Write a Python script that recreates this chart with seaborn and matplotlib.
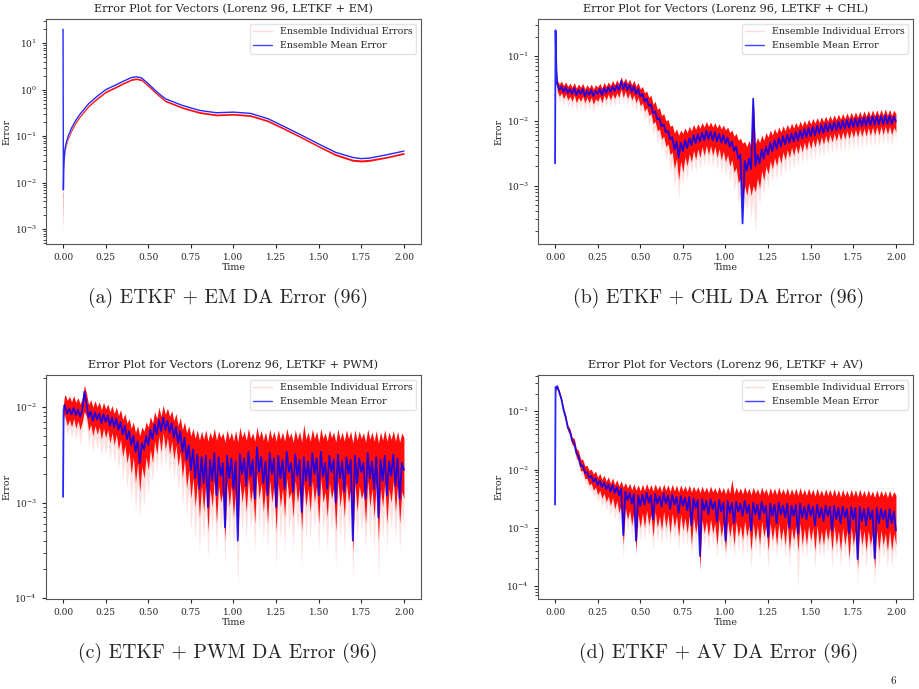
import numpy as np
import matplotlib
matplotlib.use("Agg")
import matplotlib.pyplot as plt
from matplotlib.lines import Line2D
import seaborn as sns

# ---- panel (a): EM, smooth curve ----
t_a = [0.0, 0.002, 0.004, 0.008, 0.012, 0.02, 0.03, 0.05, 0.075, 0.1, 0.15, 0.2,
       0.25, 0.3, 0.35, 0.4, 0.43, 0.46, 0.5, 0.55, 0.6, 0.7, 0.8, 0.9, 1.0, 1.1,
       1.2, 1.3, 1.4, 1.5, 1.6, 1.7, 1.75, 1.8, 1.9, 2.0]
mean_a = [20.0, 0.007, 0.02, 0.04, 0.055, 0.075, 0.1, 0.15, 0.22, 0.3, 0.5, 0.72,
          1.0, 1.22, 1.5, 1.82, 1.9, 1.8, 1.35, 0.9, 0.64, 0.46, 0.36, 0.32, 0.33, 0.31,
          0.24, 0.16, 0.105, 0.068, 0.045, 0.035, 0.033, 0.034, 0.04, 0.048]
hi_a = [0.006, 0.0065, 0.019, 0.038, 0.052, 0.071, 0.095, 0.142, 0.21, 0.285, 0.47, 0.68,
        0.94, 1.15, 1.42, 1.72, 1.8, 1.7, 1.27, 0.85, 0.6, 0.43, 0.34, 0.3, 0.31, 0.29,
        0.225, 0.15, 0.098, 0.063, 0.042, 0.032, 0.031, 0.032, 0.037, 0.045]
lo_a = [0.0008, 0.0055, 0.017, 0.034, 0.047, 0.064, 0.086, 0.128, 0.19, 0.26, 0.43, 0.62,
        0.86, 1.05, 1.3, 1.58, 1.65, 1.56, 1.16, 0.78, 0.55, 0.395, 0.31, 0.275, 0.285, 0.265,
        0.205, 0.137, 0.09, 0.058, 0.038, 0.029, 0.028, 0.029, 0.034, 0.041]

# ---- noisy panels share one time grid (3 start-up samples + 160 steps) ----
t_noisy = np.concatenate([[0.0, 0.003, 0.008], np.linspace(0.0125, 2.0, 160)])

# panel (b): CHL
mean_b = [0.0022, 0.25, 0.06,
          0.037, 0.030, 0.034, 0.028, 0.033, 0.027, 0.031, 0.026, 0.032, 0.025,
          0.030, 0.026, 0.031, 0.024, 0.029, 0.025, 0.030, 0.024, 0.029, 0.026,
          0.031, 0.025, 0.032, 0.027, 0.033, 0.028, 0.034, 0.029, 0.035, 0.030,
          0.041, 0.031, 0.038, 0.030, 0.036, 0.028, 0.034, 0.026, 0.031, 0.024,
          0.026, 0.020, 0.022, 0.017, 0.018, 0.013, 0.014, 0.0105, 0.0110, 0.0082,
          0.0088, 0.0066, 0.0070, 0.0052, 0.0056, 0.0036, 0.0048, 0.0027, 0.0046, 0.0034,
          0.0050, 0.0038, 0.0054, 0.0042, 0.0060, 0.0045, 0.0062, 0.0048, 0.0066, 0.0050,
          0.0070, 0.0052, 0.0068, 0.0050, 0.0067, 0.0048, 0.0063, 0.0046, 0.0060, 0.0044,
          0.0055, 0.0040, 0.0048, 0.0034, 0.0040, 0.0026, 0.0030, 0.00026, 0.0024, 0.0017,
          0.0026, 0.0018, 0.022, 0.0020, 0.0030, 0.0022, 0.0036, 0.0026, 0.0040, 0.0030,
          0.0046, 0.0034, 0.0050, 0.0037, 0.0054, 0.0040, 0.0058, 0.0043, 0.0061, 0.0046,
          0.0064, 0.0048, 0.0067, 0.0050, 0.0071, 0.0053, 0.0074, 0.0056, 0.0078, 0.0058,
          0.0081, 0.0060, 0.0084, 0.0063, 0.0087, 0.0065, 0.0090, 0.0068, 0.0092, 0.0070,
          0.0095, 0.0072, 0.0097, 0.0074, 0.0100, 0.0076, 0.0103, 0.0078, 0.0106, 0.0080,
          0.0108, 0.0081, 0.0110, 0.0083, 0.0113, 0.0084, 0.0115, 0.0086, 0.0117, 0.0087,
          0.0118, 0.0088, 0.0119, 0.0089, 0.0121, 0.0090, 0.0120, 0.0089, 0.0116, 0.0098]
hi_b = [0.0025, 0.26, 0.07,
        0.043, 0.037, 0.041, 0.035, 0.040, 0.034, 0.038, 0.033, 0.039, 0.032,
        0.037, 0.033, 0.038, 0.031, 0.036, 0.032, 0.037, 0.031, 0.036, 0.033,
        0.038, 0.032, 0.039, 0.034, 0.040, 0.035, 0.042, 0.036, 0.043, 0.037,
        0.048, 0.039, 0.046, 0.038, 0.044, 0.036, 0.042, 0.034, 0.039, 0.031,
        0.034, 0.027, 0.029, 0.023, 0.025, 0.018, 0.020, 0.015, 0.016, 0.012,
        0.013, 0.0100, 0.0105, 0.0082, 0.0086, 0.0065, 0.0075, 0.0060, 0.0072, 0.0064,
        0.0078, 0.0066, 0.0082, 0.0070, 0.0088, 0.0074, 0.0090, 0.0077, 0.0094, 0.0080,
        0.0098, 0.0082, 0.0096, 0.0080, 0.0094, 0.0078, 0.0090, 0.0075, 0.0086, 0.0072,
        0.0080, 0.0066, 0.0072, 0.0058, 0.0064, 0.0050, 0.0054, 0.0045, 0.0048, 0.0040,
        0.0050, 0.0040, 0.024, 0.0044, 0.0055, 0.0046, 0.0060, 0.0050, 0.0066, 0.0056,
        0.0072, 0.0060, 0.0076, 0.0064, 0.0080, 0.0067, 0.0084, 0.0070, 0.0088, 0.0074,
        0.0092, 0.0077, 0.0095, 0.0080, 0.0099, 0.0083, 0.0102, 0.0086, 0.0106, 0.0089,
        0.0109, 0.0092, 0.0112, 0.0094, 0.0115, 0.0097, 0.0118, 0.0099, 0.0121, 0.0102,
        0.0124, 0.0104, 0.0127, 0.0106, 0.0130, 0.0108, 0.0133, 0.0110, 0.0136, 0.0112,
        0.0138, 0.0114, 0.0140, 0.0116, 0.0143, 0.0117, 0.0145, 0.0118, 0.0147, 0.0120,
        0.0148, 0.0121, 0.0150, 0.0122, 0.0152, 0.0122, 0.0150, 0.0121, 0.0146, 0.0128]
lo_b = [0.0012, 0.2, 0.045,
        0.029, 0.024, 0.027, 0.022, 0.026, 0.021, 0.024, 0.020, 0.025, 0.019,
        0.023, 0.020, 0.024, 0.019, 0.023, 0.019, 0.023, 0.018, 0.022, 0.020,
        0.024, 0.019, 0.025, 0.021, 0.026, 0.021, 0.026, 0.022, 0.027, 0.023,
        0.031, 0.023, 0.029, 0.022, 0.027, 0.021, 0.025, 0.019, 0.023, 0.017,
        0.019, 0.014, 0.016, 0.012, 0.013, 0.0090, 0.0098, 0.0070, 0.0075, 0.0052,
        0.0058, 0.0040, 0.0044, 0.0030, 0.0033, 0.0018, 0.0026, 0.0012, 0.0024, 0.0016,
        0.0028, 0.0020, 0.0031, 0.0023, 0.0035, 0.0025, 0.0037, 0.0027, 0.0040, 0.0029,
        0.0042, 0.0030, 0.0041, 0.0029, 0.0040, 0.0027, 0.0037, 0.0025, 0.0034, 0.0023,
        0.0030, 0.0020, 0.0025, 0.0016, 0.0019, 0.0011, 0.0013, 0.0006, 0.0010, 0.0007,
        0.0011, 0.0007, 0.0010, 0.0008, 0.0013, 0.0009, 0.0017, 0.0012, 0.0020, 0.0015,
        0.0024, 0.0018, 0.0027, 0.0020, 0.0030, 0.0022, 0.0033, 0.0025, 0.0036, 0.0027,
        0.0039, 0.0029, 0.0041, 0.0031, 0.0044, 0.0033, 0.0047, 0.0035, 0.0050, 0.0037,
        0.0052, 0.0039, 0.0055, 0.0041, 0.0057, 0.0043, 0.0060, 0.0045, 0.0062, 0.0047,
        0.0064, 0.0049, 0.0066, 0.0050, 0.0068, 0.0052, 0.0070, 0.0053, 0.0072, 0.0055,
        0.0074, 0.0056, 0.0076, 0.0057, 0.0077, 0.0058, 0.0079, 0.0059, 0.0080, 0.0060,
        0.0081, 0.0060, 0.0082, 0.0061, 0.0083, 0.0062, 0.0082, 0.0061, 0.0080, 0.0068]
tail_b = [0.001, 0.18, 0.04,
          0.025, 0.019, 0.024, 0.017, 0.023, 0.016, 0.021, 0.015, 0.022, 0.014,
          0.020, 0.015, 0.021, 0.014, 0.020, 0.015, 0.020, 0.013, 0.019, 0.016,
          0.021, 0.015, 0.022, 0.016, 0.023, 0.016, 0.023, 0.017, 0.024, 0.018,
          0.027, 0.018, 0.026, 0.017, 0.024, 0.016, 0.022, 0.014, 0.020, 0.013,
          0.016, 0.010, 0.013, 0.008, 0.011, 0.0060, 0.0080, 0.0045, 0.0060, 0.0035,
          0.0045, 0.0025, 0.0034, 0.0015, 0.0024, 0.0009, 0.0018, 0.0006, 0.0016, 0.0010,
          0.0022, 0.0012, 0.0025, 0.0015, 0.0029, 0.0016, 0.0030, 0.0018, 0.0033, 0.0020,
          0.0035, 0.0020, 0.0034, 0.0019, 0.0033, 0.0017, 0.0030, 0.0015, 0.0027, 0.0013,
          0.0023, 0.0011, 0.0018, 0.0008, 0.0013, 0.0005, 0.0008, 0.0003, 0.0006, 0.0004,
          0.0007, 0.0003, 0.0007, 0.00018, 0.0009, 0.0005, 0.0012, 0.0007, 0.0015, 0.0009,
          0.0019, 0.0011, 0.0021, 0.0012, 0.0024, 0.0013, 0.0027, 0.0015, 0.0030, 0.0017,
          0.0032, 0.0018, 0.0034, 0.0020, 0.0037, 0.0021, 0.0040, 0.0023, 0.0042, 0.0024,
          0.0044, 0.0025, 0.0047, 0.0027, 0.0049, 0.0028, 0.0051, 0.0030, 0.0053, 0.0031,
          0.0055, 0.0032, 0.0057, 0.0033, 0.0059, 0.0034, 0.0060, 0.0035, 0.0062, 0.0036,
          0.0064, 0.0037, 0.0066, 0.0038, 0.0067, 0.0039, 0.0068, 0.0040, 0.0069, 0.0040,
          0.0070, 0.0041, 0.0071, 0.0042, 0.0072, 0.0042, 0.0071, 0.0041, 0.0069, 0.0050]

# panel (c): PWM
mean_c = [0.00115, 0.0092, 0.0105,
          0.0100, 0.0086, 0.0096, 0.0084, 0.0098, 0.0083, 0.0094, 0.0080, 0.0092, 0.0145,
          0.0110, 0.0078, 0.0090, 0.0072, 0.0088, 0.0074, 0.0086, 0.0068, 0.0084, 0.0070,
          0.0082, 0.0064, 0.0078, 0.0062, 0.0076, 0.0058, 0.0070, 0.0052, 0.0064, 0.0046,
          0.0056, 0.0040, 0.0050, 0.0034, 0.0044, 0.0026, 0.0042, 0.0036, 0.0050, 0.0040,
          0.0058, 0.0046, 0.0066, 0.0052, 0.0074, 0.0056, 0.0078, 0.0058, 0.0072, 0.0054,
          0.0068, 0.0048, 0.0062, 0.0042, 0.0056, 0.0034, 0.0048, 0.0028, 0.0040, 0.0022,
          0.0036, 0.0018, 0.0032, 0.0014, 0.0030, 0.0016, 0.0031, 0.0009, 0.0028, 0.0017,
          0.0033, 0.0012, 0.0030, 0.0019, 0.0026, 0.00055, 0.0031, 0.0018, 0.0029, 0.0014,
          0.0027, 0.0004, 0.0032, 0.0020, 0.0029, 0.0015, 0.0034, 0.0019, 0.0028, 0.0011,
          0.0038, 0.0021, 0.0030, 0.0016, 0.0027, 0.0012, 0.0033, 0.0020, 0.0029, 0.0009,
          0.0031, 0.0018, 0.0028, 0.0014, 0.0034, 0.0021, 0.0026, 0.0013, 0.0032, 0.0019,
          0.0028, 0.0008, 0.0030, 0.0017, 0.0027, 0.0015, 0.0033, 0.0020, 0.0029, 0.0012,
          0.0034, 0.0019, 0.0026, 0.0014, 0.0031, 0.0021, 0.0028, 0.0010, 0.0032, 0.0018,
          0.0027, 0.0013, 0.0030, 0.0020, 0.0028, 0.0004, 0.0031, 0.0016, 0.0029, 0.0021,
          0.0026, 0.0011, 0.0033, 0.0018, 0.0027, 0.0014, 0.0030, 0.0007, 0.0028, 0.0017,
          0.0031, 0.0012, 0.0027, 0.0019, 0.0032, 0.0015, 0.0029, 0.0011, 0.0026, 0.0022]
hi_c = [0.0012, 0.011, 0.013,
        0.0135, 0.0118, 0.0130, 0.0114, 0.0132, 0.0112, 0.0126, 0.0108, 0.0124, 0.0170,
        0.0140, 0.0106, 0.0120, 0.0100, 0.0117, 0.0100, 0.0114, 0.0094, 0.0112, 0.0096,
        0.0108, 0.0090, 0.0104, 0.0086, 0.0100, 0.0082, 0.0094, 0.0074, 0.0086, 0.0068,
        0.0076, 0.0060, 0.0070, 0.0054, 0.0064, 0.0050, 0.0062, 0.0056, 0.0070, 0.0062,
        0.0080, 0.0068, 0.0090, 0.0076, 0.0100, 0.0080, 0.0105, 0.0084, 0.0098, 0.0080,
        0.0092, 0.0072, 0.0086, 0.0064, 0.0078, 0.0058, 0.0070, 0.0054, 0.0064, 0.0050,
        0.0060, 0.0047, 0.0058, 0.0045, 0.0056, 0.0046, 0.0058, 0.0044, 0.0055, 0.0047,
        0.0060, 0.0045, 0.0056, 0.0048, 0.0054, 0.0043, 0.0058, 0.0046, 0.0055, 0.0044,
        0.0057, 0.0043, 0.0062, 0.0048, 0.0056, 0.0045, 0.0060, 0.0047, 0.0054, 0.0044,
        0.0062, 0.0048, 0.0057, 0.0045, 0.0055, 0.0043, 0.0059, 0.0047, 0.0056, 0.0044,
        0.0058, 0.0046, 0.0055, 0.0044, 0.0060, 0.0048, 0.0054, 0.0043, 0.0058, 0.0046,
        0.0056, 0.0043, 0.0066, 0.0046, 0.0055, 0.0044, 0.0059, 0.0047, 0.0056, 0.0043,
        0.0060, 0.0047, 0.0054, 0.0044, 0.0058, 0.0048, 0.0055, 0.0043, 0.0059, 0.0046,
        0.0055, 0.0044, 0.0058, 0.0047, 0.0056, 0.0042, 0.0058, 0.0045, 0.0056, 0.0047,
        0.0054, 0.0043, 0.0059, 0.0046, 0.0055, 0.0044, 0.0057, 0.0042, 0.0055, 0.0045,
        0.0058, 0.0044, 0.0055, 0.0046, 0.0057, 0.0044, 0.0056, 0.0043, 0.0054, 0.0048]
lo_c = [0.0009, 0.0075, 0.0085,
        0.0078, 0.0064, 0.0074, 0.0062, 0.0076, 0.0060, 0.0072, 0.0058, 0.0070, 0.0090,
        0.0080, 0.0056, 0.0066, 0.0050, 0.0064, 0.0052, 0.0062, 0.0046, 0.0060, 0.0048,
        0.0058, 0.0042, 0.0054, 0.0040, 0.0052, 0.0036, 0.0046, 0.0030, 0.0040, 0.0026,
        0.0034, 0.0020, 0.0030, 0.0016, 0.0026, 0.0013, 0.0024, 0.0018, 0.0030, 0.0022,
        0.0036, 0.0026, 0.0044, 0.0032, 0.0050, 0.0034, 0.0054, 0.0036, 0.0048, 0.0032,
        0.0044, 0.0028, 0.0040, 0.0024, 0.0034, 0.0018, 0.0028, 0.0014, 0.0022, 0.0011,
        0.0018, 0.0009, 0.0016, 0.0007, 0.0015, 0.0008, 0.0016, 0.0005, 0.0014, 0.0009,
        0.0017, 0.0006, 0.0015, 0.0010, 0.0013, 0.0004, 0.0016, 0.0009, 0.0015, 0.0007,
        0.0014, 0.0004, 0.0017, 0.0010, 0.0015, 0.0008, 0.0018, 0.0010, 0.0014, 0.0006,
        0.0020, 0.0011, 0.0016, 0.0008, 0.0014, 0.0006, 0.0017, 0.0010, 0.0015, 0.0005,
        0.0016, 0.0009, 0.0014, 0.0007, 0.0018, 0.0011, 0.0013, 0.0007, 0.0017, 0.0010,
        0.0014, 0.0005, 0.0016, 0.0009, 0.0014, 0.0008, 0.0017, 0.0010, 0.0015, 0.0006,
        0.0018, 0.0010, 0.0013, 0.0007, 0.0016, 0.0011, 0.0014, 0.0005, 0.0017, 0.0009,
        0.0014, 0.0007, 0.0016, 0.0010, 0.0014, 0.0003, 0.0016, 0.0008, 0.0015, 0.0011,
        0.0013, 0.0006, 0.0017, 0.0009, 0.0014, 0.0007, 0.0016, 0.0004, 0.0014, 0.0009,
        0.0016, 0.0006, 0.0014, 0.0010, 0.0017, 0.0008, 0.0015, 0.0006, 0.0013, 0.0011]
tail_c = [0.0008, 0.0060, 0.0070,
          0.0066, 0.0050, 0.0062, 0.0047, 0.0064, 0.0045, 0.0060, 0.0040, 0.0058, 0.0075,
          0.0066, 0.0040, 0.0052, 0.0034, 0.0050, 0.0036, 0.0048, 0.0030, 0.0046, 0.0032,
          0.0046, 0.0028, 0.0042, 0.0026, 0.0040, 0.0022, 0.0034, 0.0017, 0.0028, 0.0014,
          0.0024, 0.0010, 0.0020, 0.0008, 0.0016, 0.0007, 0.0015, 0.0009, 0.0020, 0.0012,
          0.0026, 0.0016, 0.0033, 0.0020, 0.0040, 0.0022, 0.0043, 0.0024, 0.0036, 0.0020,
          0.0033, 0.0017, 0.0030, 0.0013, 0.0024, 0.0009, 0.0019, 0.0007, 0.0014, 0.0005,
          0.0011, 0.0004, 0.0010, 0.0003, 0.0009, 0.0004, 0.0010, 0.00026, 0.0009, 0.0005,
          0.0011, 0.0003, 0.0010, 0.0005, 0.0008, 0.00022, 0.0011, 0.0004, 0.0010, 0.0003,
          0.0009, 0.000125, 0.0011, 0.0005, 0.0010, 0.0004, 0.0012, 0.0005, 0.0009, 0.0003,
          0.0013, 0.0005, 0.0011, 0.0004, 0.0009, 0.0003, 0.0011, 0.0005, 0.0010, 0.0002,
          0.0011, 0.0004, 0.0009, 0.0003, 0.0012, 0.0005, 0.0008, 0.0003, 0.0011, 0.0005,
          0.0009, 0.0002, 0.0011, 0.0004, 0.0009, 0.0004, 0.0011, 0.0005, 0.0010, 0.0003,
          0.0012, 0.0005, 0.0008, 0.0003, 0.0011, 0.0005, 0.0009, 0.0002, 0.0011, 0.0004,
          0.0009, 0.0003, 0.0011, 0.0005, 0.0009, 0.00015, 0.0011, 0.0004, 0.0010, 0.0005,
          0.0008, 0.0003, 0.0011, 0.0004, 0.0009, 0.0003, 0.0011, 0.00016, 0.0009, 0.0004,
          0.0011, 0.0003, 0.0009, 0.0005, 0.0011, 0.0004, 0.0010, 0.0003, 0.0008, 0.0005]

# panel (d): AV
mean_d = [0.0025, 0.26, 0.25,
          0.27, 0.21, 0.16, 0.105, 0.078, 0.052, 0.045, 0.031, 0.029, 0.019,
          0.017, 0.0115, 0.0118, 0.0088, 0.0090, 0.0072, 0.0078, 0.0062, 0.0070, 0.0054,
          0.0064, 0.0050, 0.0060, 0.0046, 0.0056, 0.0042, 0.0054, 0.0040, 0.0050, 0.0036,
          0.0047, 0.00075, 0.0042, 0.0030, 0.0040, 0.0026, 0.0038, 0.0006, 0.0036, 0.0024,
          0.0037, 0.0025, 0.0040, 0.0027, 0.0036, 0.0014, 0.0038, 0.0026, 0.0035, 0.0023,
          0.0039, 0.0026, 0.0036, 0.0021, 0.0037, 0.0025, 0.0034, 0.0018, 0.0035, 0.0024,
          0.0033, 0.0020, 0.0034, 0.0011, 0.0032, 0.0022, 0.0030, 0.00033, 0.0031, 0.0020,
          0.0029, 0.0017, 0.0031, 0.0021, 0.0028, 0.0013, 0.0030, 0.0019, 0.0027, 0.0006,
          0.0029, 0.0018, 0.0027, 0.0012, 0.0028, 0.0019, 0.0026, 0.0016, 0.0029, 0.0018,
          0.0025, 0.0009, 0.0027, 0.0017, 0.0025, 0.0014, 0.0028, 0.0018, 0.0024, 0.0007,
          0.0026, 0.0016, 0.0025, 0.0012, 0.0027, 0.0017, 0.0024, 0.0015, 0.0026, 0.0010,
          0.0024, 0.0016, 0.0025, 0.0008, 0.0026, 0.0015, 0.0023, 0.0014, 0.0025, 0.0016,
          0.0023, 0.0011, 0.0025, 0.0015, 0.0022, 0.0013, 0.0024, 0.0016, 0.0023, 0.0009,
          0.0024, 0.0014, 0.0022, 0.0012, 0.0023, 0.0015, 0.0021, 0.0008, 0.0023, 0.0014,
          0.0022, 0.00029, 0.0023, 0.0013, 0.0021, 0.0011, 0.0022, 0.0014, 0.0020, 0.0003,
          0.0022, 0.0012, 0.0021, 0.0014, 0.0020, 0.0010, 0.0021, 0.0012, 0.0019, 0.0009]
hi_d = [0.0026, 0.28, 0.27,
        0.28, 0.23, 0.17, 0.115, 0.086, 0.058, 0.050, 0.036, 0.034, 0.023,
        0.021, 0.015, 0.015, 0.0115, 0.0118, 0.0096, 0.0102, 0.0084, 0.0094, 0.0074,
        0.0086, 0.0068, 0.0080, 0.0063, 0.0075, 0.0058, 0.0072, 0.0055, 0.0067, 0.0052,
        0.0064, 0.0050, 0.0060, 0.0048, 0.0058, 0.0045, 0.0057, 0.0044, 0.0055, 0.0043,
        0.0056, 0.0044, 0.0058, 0.0045, 0.0055, 0.0043, 0.0057, 0.0045, 0.0054, 0.0042,
        0.0057, 0.0044, 0.0055, 0.0042, 0.0056, 0.0043, 0.0054, 0.0041, 0.0055, 0.0043,
        0.0053, 0.0042, 0.0054, 0.0041, 0.0052, 0.0042, 0.0051, 0.0040, 0.0052, 0.0041,
        0.0050, 0.0040, 0.0052, 0.0041, 0.0049, 0.0039, 0.0051, 0.0040, 0.0049, 0.0038,
        0.0050, 0.0039, 0.0068, 0.0038, 0.0050, 0.0040, 0.0048, 0.0038, 0.0051, 0.0039,
        0.0048, 0.0037, 0.0050, 0.0039, 0.0047, 0.0037, 0.0050, 0.0039, 0.0047, 0.0036,
        0.0049, 0.0038, 0.0048, 0.0037, 0.0050, 0.0038, 0.0047, 0.0037, 0.0049, 0.0036,
        0.0047, 0.0037, 0.0048, 0.0036, 0.0049, 0.0037, 0.0046, 0.0036, 0.0048, 0.0037,
        0.0046, 0.0035, 0.0048, 0.0036, 0.0045, 0.0035, 0.0047, 0.0036, 0.0046, 0.0035,
        0.0047, 0.0035, 0.0045, 0.0034, 0.0046, 0.0035, 0.0044, 0.0034, 0.0046, 0.0035,
        0.0045, 0.0034, 0.0046, 0.0035, 0.0044, 0.0034, 0.0045, 0.0035, 0.0043, 0.0033,
        0.0045, 0.0034, 0.0044, 0.0035, 0.0043, 0.0033, 0.0044, 0.0034, 0.0042, 0.0036]
lo_d = [0.0015, 0.24, 0.23,
        0.25, 0.19, 0.145, 0.095, 0.070, 0.046, 0.040, 0.027, 0.025, 0.016,
        0.014, 0.0095, 0.0096, 0.0070, 0.0070, 0.0054, 0.0058, 0.0044, 0.0050, 0.0037,
        0.0044, 0.0032, 0.0039, 0.0028, 0.0035, 0.0024, 0.0033, 0.0021, 0.0029, 0.0018,
        0.0025, 0.0005, 0.0022, 0.0014, 0.0020, 0.0011, 0.0019, 0.0004, 0.0017, 0.0010,
        0.0018, 0.0010, 0.0020, 0.0011, 0.0017, 0.0007, 0.0019, 0.0010, 0.0016, 0.0009,
        0.0019, 0.0010, 0.0017, 0.0008, 0.0018, 0.0010, 0.0016, 0.0007, 0.0017, 0.0009,
        0.0015, 0.0008, 0.0016, 0.0005, 0.0015, 0.0008, 0.0014, 0.0002, 0.0014, 0.0008,
        0.0013, 0.0007, 0.0014, 0.0008, 0.0012, 0.0005, 0.0014, 0.0007, 0.0012, 0.0004,
        0.0013, 0.0007, 0.0012, 0.0005, 0.0013, 0.0007, 0.0011, 0.0006, 0.0013, 0.0007,
        0.0011, 0.0004, 0.0012, 0.0006, 0.0011, 0.0005, 0.0013, 0.0007, 0.0011, 0.0004,
        0.0012, 0.0006, 0.0011, 0.0005, 0.0012, 0.0006, 0.0010, 0.0005, 0.0012, 0.0004,
        0.0010, 0.0006, 0.0011, 0.0004, 0.0012, 0.0005, 0.0010, 0.0005, 0.0011, 0.0006,
        0.0010, 0.0004, 0.0011, 0.0005, 0.0009, 0.0005, 0.0010, 0.0006, 0.0010, 0.0004,
        0.0011, 0.0005, 0.0009, 0.0004, 0.0010, 0.0005, 0.0009, 0.0003, 0.0010, 0.0005,
        0.0009, 0.0002, 0.0010, 0.0005, 0.0009, 0.0004, 0.0009, 0.0005, 0.0008, 0.0002,
        0.0009, 0.0004, 0.0009, 0.0005, 0.0008, 0.0004, 0.0009, 0.0004, 0.0008, 0.0005]
tail_d = [0.0013, 0.22, 0.21,
          0.24, 0.18, 0.135, 0.088, 0.064, 0.042, 0.036, 0.024, 0.022, 0.014,
          0.012, 0.0080, 0.0080, 0.0058, 0.0057, 0.0043, 0.0046, 0.0034, 0.0039, 0.0028,
          0.0034, 0.0023, 0.0030, 0.0020, 0.0026, 0.0016, 0.0024, 0.0014, 0.0021, 0.0012,
          0.0018, 0.0003, 0.0016, 0.0009, 0.0014, 0.0007, 0.0013, 0.0003, 0.0012, 0.0006,
          0.0013, 0.0006, 0.0014, 0.0007, 0.0012, 0.0004, 0.0013, 0.0006, 0.0011, 0.0005,
          0.0013, 0.0006, 0.0012, 0.0005, 0.0013, 0.0006, 0.0011, 0.0004, 0.0012, 0.0005,
          0.0010, 0.0005, 0.0011, 0.0003, 0.0010, 0.0005, 0.0010, 0.00015, 0.0010, 0.0005,
          0.0009, 0.0004, 0.0010, 0.0005, 0.0008, 0.0003, 0.0010, 0.0004, 0.0008, 0.00025,
          0.0009, 0.0004, 0.0008, 0.0003, 0.0009, 0.0004, 0.0008, 0.0003, 0.0009, 0.0004,
          0.0008, 0.0002, 0.0008, 0.0004, 0.0008, 0.0003, 0.0009, 0.0004, 0.0008, 0.0002,
          0.0008, 0.0004, 0.0008, 0.0003, 0.0008, 0.0004, 0.0007, 0.0003, 0.0008, 0.0002,
          0.0007, 0.0004, 0.0008, 0.00009, 0.0008, 0.0003, 0.0007, 0.0003, 0.0008, 0.0004,
          0.0007, 0.0002, 0.0008, 0.0003, 0.0006, 0.0003, 0.0007, 0.0004, 0.0007, 0.0002,
          0.0008, 0.0003, 0.0006, 0.0002, 0.0007, 0.0003, 0.0006, 0.0002, 0.0007, 0.0003,
          0.0006, 0.0001, 0.0007, 0.0003, 0.0006, 0.0002, 0.0006, 0.0003, 0.0005, 0.0001,
          0.0006, 0.0002, 0.0006, 0.0003, 0.0005, 0.0002, 0.0006, 0.0002, 0.0005, 0.0003]

titles = ["Error Plot for Vectors (Lorenz 96, LETKF + EM)",
          "Error Plot for Vectors (Lorenz 96, LETKF + CHL)",
          "Error Plot for Vectors (Lorenz 96, LETKF + PWM)",
          "Error Plot for Vectors (Lorenz 96, LETKF + AV)"]
captions = ["(a) ETKF + EM DA Error (96)",
            "(b) ETKF + CHL DA Error (96)",
            "(c) ETKF + PWM DA Error (96)",
            "(d) ETKF + AV DA Error (96)"]

sns.set_style("ticks")
plt.rcParams['font.family'] = ['DejaVu Serif']
plt.rcParams['mathtext.fontset'] = 'dejavuserif'

W, H = 920, 689
fig = plt.figure(figsize=(W / 100, H / 100), dpi=100)

# axes boxes in pixels: left, top, right, bottom
boxes = [(46, 19, 421, 244), (538, 19, 913, 244),
         (46, 375, 421, 599), (538, 375, 913, 599)]
caption_xy = [(228, 298), (719, 298), (228, 653), (719, 653)]

panels = [
    (t_a, mean_a, lo_a, hi_a, None),
    (t_noisy, mean_b, lo_b, hi_b, tail_b),
    (t_noisy, mean_c, lo_c, hi_c, tail_c),
    (t_noisy, mean_d, lo_d, hi_d, tail_d),
]

for i, (t, mean, lo, hi, tail) in enumerate(panels):
    l, tp, r, b = boxes[i]
    ax = fig.add_axes([l / W, 1 - b / H, (r - l) / W, (b - tp) / H])
    t = np.asarray(t)
    if tail is not None:
        ax.fill_between(t, tail, lo, color='red', alpha=0.12, lw=0)
    ax.fill_between(t, lo, hi, color='red', alpha=0.95, lw=0)
    lw_mean = 1.0 if tail is None else 1.3
    sns.lineplot(x=t, y=mean, ax=ax, color='blue', alpha=0.85, lw=lw_mean,
                 estimator=None, sort=False)
    ax.set_yscale('log')
    ax.set_xticks([0, 0.25, 0.5, 0.75, 1.0, 1.25, 1.5, 1.75, 2.0])
    ax.set_xticklabels(['0.00', '0.25', '0.50', '0.75', '1.00', '1.25',
                        '1.50', '1.75', '2.00'])
    ax.tick_params(labelsize=6.5, length=3)
    ax.set_title(titles[i], fontsize=8.2, pad=5)
    ax.set_xlabel('Time', fontsize=6.8, labelpad=1)
    ax.set_ylabel('Error', fontsize=6.8, labelpad=2)
    for s in ax.spines.values():
        s.set_color('#555555')
    handles = [Line2D([], [], color='red', alpha=0.15, lw=1),
               Line2D([], [], color='blue', alpha=0.75, lw=1)]
    ax.legend(handles, ['Ensemble Individual Errors', 'Ensemble Mean Error'],
              loc='upper right', fontsize=6.8, frameon=True, edgecolor='#dddddd')
    cx, cy = caption_xy[i]
    fig.text(cx / W, 1 - cy / H, captions[i], family='cmr10', fontsize=14.3,
             ha='center', va='center')

fig.text(893 / W, 1 - 681 / H, '6', family='cmr10', fontsize=8,
         ha='center', va='center')

fig.savefig('out.png', dpi=100)
